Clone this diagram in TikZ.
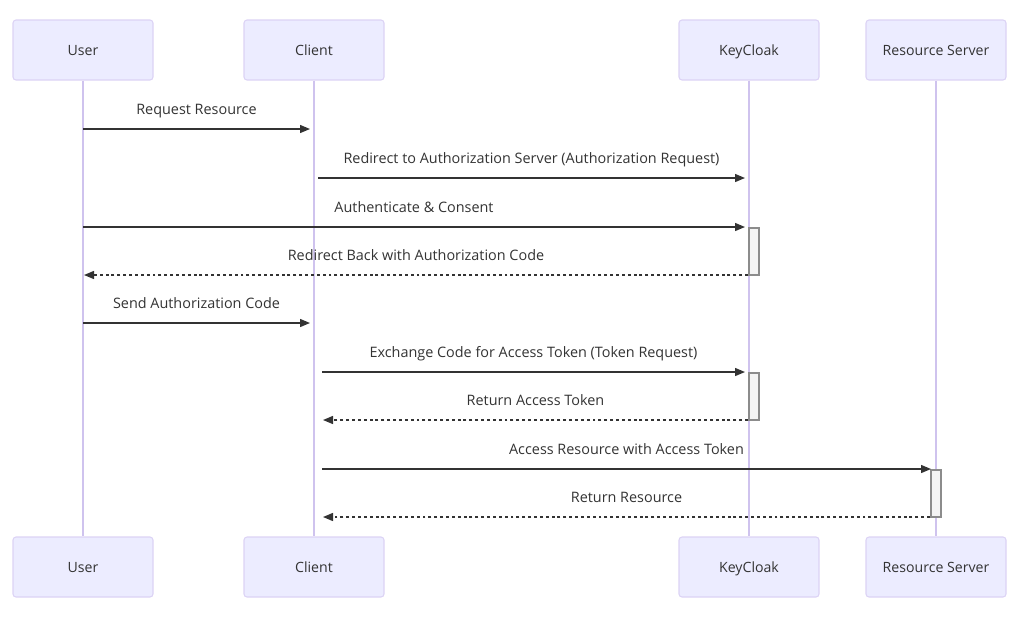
\documentclass[tikz,border=0pt]{standalone}
\usepackage{fontspec}
\setmainfont{Open Sans}
\usetikzlibrary{arrows.meta}
\definecolor{actfill}{HTML}{ECECFF}
\definecolor{actline}{HTML}{DCD3F5}
\definecolor{lifeln}{HTML}{CFC3EE}
\definecolor{ink}{HTML}{333333}
\definecolor{barfill}{HTML}{F4F4F4}
\definecolor{barline}{HTML}{8C8C8C}
\tikzset{
  actor/.style={draw=actline, fill=actfill, line width=0.8pt, rounded corners=2.25pt,
    minimum width=105pt, minimum height=45pt, text=ink, font=\fontsize{10.6pt}{12pt}\selectfont,
    inner sep=0pt, text height=9.2pt, text depth=0.8pt},
  lifeline/.style={draw=lifeln, line width=1pt},
  msg/.style={draw=ink, line width=1pt, -{Triangle[length=7.5pt,width=6pt]}},
  reply/.style={msg, dash pattern=on 2.2pt off 2.2pt},
  lbl/.style={midway, yshift=13.6pt, text=ink, font=\fontsize{10.8pt}{12pt}\selectfont,
    inner sep=0pt, text height=7.6pt, text depth=2.2pt},
  bar/.style={draw=barline, fill=barfill, line width=0.8pt, minimum width=7.5pt, inner sep=0pt}
}
\begin{document}
\begin{tikzpicture}[x=0.75pt,y=-0.75pt]
\useasboundingbox (0,0) rectangle (1030,619);
% actors top
\node[actor] (ut) at (83,50) {User};
\node[actor] (ct) at (314,50) {Client};
\node[actor] (kt) at (749,50) {KeyCloak};
\node[actor] (rt) at (936,50) {Resource Server};
% actors bottom
\node[actor] (ub) at (83,567) {User};
\node[actor] (cb) at (314,567) {Client};
\node[actor] (kb) at (749,567) {KeyCloak};
\node[actor] (rb) at (936,567) {Resource Server};
% lifelines
\draw[lifeline] (ut.south) -- (ub.north);
\draw[lifeline] (ct.south) -- (cb.north);
\draw[lifeline] (kt.south) -- (kb.north);
\draw[lifeline] (rt.south) -- (rb.north);
% activation bars
\node[bar, minimum height=35.25pt] (a1) at (754,251.5) {};
\node[bar, minimum height=35.25pt] (a2) at (754,396.5) {};
\node[bar, minimum height=35.25pt] (a3) at (936,493.5) {};
% message end points
\path (83,129) coordinate (m1a) (310,129) coordinate (m1b)
      (318,178) coordinate (m2a) (745,178) coordinate (m2b)
      (83,227) coordinate (m3a) (745,227) coordinate (m3b)
      (748,275) coordinate (m4a) (84,275) coordinate (m4b)
      (83,323) coordinate (m5a) (310,323) coordinate (m5b)
      (322,372) coordinate (m6a) (745,372) coordinate (m6b)
      (748,420) coordinate (m7a) (323,420) coordinate (m7b)
      (322,469) coordinate (m8a) (931,469) coordinate (m8b)
      (930,517) coordinate (m9a) (323,517) coordinate (m9b);
% messages
\draw[msg] (m1a) -- node[lbl]{Request Resource} (m1b);
\draw[msg] (m2a) -- node[lbl]{Redirect to Authorization Server (Authorization Request)} (m2b);
\draw[msg] (m3a) -- node[lbl]{Authenticate \& Consent} (m3b);
\draw[reply] (m4a) -- node[lbl]{Redirect Back with Authorization Code} (m4b);
\draw[msg] (m5a) -- node[lbl]{Send Authorization Code} (m5b);
\draw[msg] (m6a) -- node[lbl]{Exchange Code for Access Token (Token Request)} (m6b);
\draw[reply] (m7a) -- node[lbl]{Return Access Token} (m7b);
\draw[msg] (m8a) -- node[lbl]{Access Resource with Access Token} (m8b);
\draw[reply] (m9a) -- node[lbl]{Return Resource} (m9b);
\end{tikzpicture}
\end{document}
